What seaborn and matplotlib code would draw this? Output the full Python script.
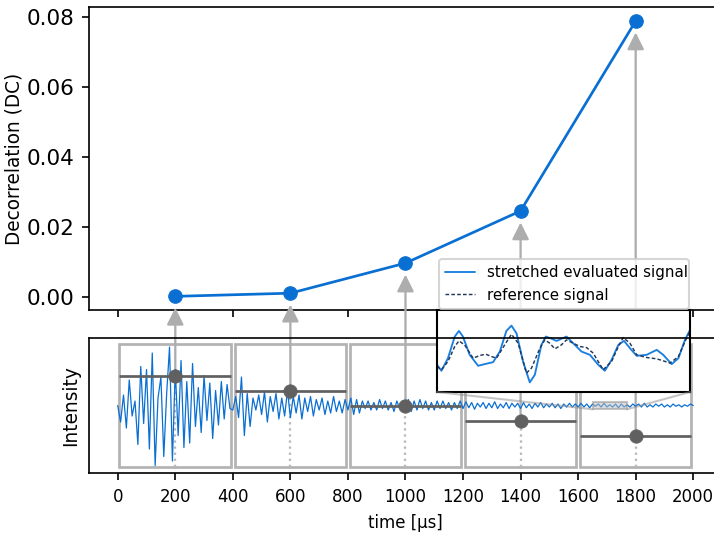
import numpy as np
import pandas as pd
import seaborn as sns
import matplotlib
matplotlib.use("Agg")
import matplotlib.pyplot as plt
from matplotlib.patches import Rectangle, ConnectionPatch
from matplotlib import font_manager as fm

# ---------------- data ----------------
window_centers = [200, 600, 1000, 1400, 1800]
window_starts = [0, 400, 800, 1200, 1600]
window_width = 400
dc_values = [0.0002, 0.0011, 0.0097, 0.0246, 0.0789]
window_levels = [2.0, 1.0, 0.0, -1.0, -2.0]

sample_step_us = 10
signal_a = [0.0, -1.1, 0.7, -1.5, 1.7, -0.7, 0.3, -2.6, 2.6, -1.2,
            2.4, -2.9, 3.5, -4.0, 0.5, 1.9, -3.4, 0.8, 3.9, -3.7,
            2.4, -2.0, 3.0, -2.8, 1.6, -2.5, 2.8, -1.4, 1.2, -1.8,
            2.0, -1.0, 1.5, -2.2, 1.0, -1.3, 1.6, -0.9, 1.4, -0.2]
signal_b = [-0.3, 0.6, -0.8, 1.9, -2.0, 0.8, -1.4, 0.5, -0.3, 0.7,
            -0.6, 0.9, -1.1, 0.6, -0.4, 0.8, -0.9, 0.5, -0.7, 1.0,
            -0.8, 0.6, -0.5, 0.7, -0.9, 0.5, -0.4, 0.6, -0.7, 0.4,
            -0.3, 0.5, -0.6, 0.3, -0.5, 0.6, -0.4, 0.3, -0.5, 0.4]
signal_c = [-0.3, 0.5, -0.6, 0.4, -0.5, 0.3, -0.2, 0.3, -0.3, 0.2,
            -0.3, 0.4, -0.2, 0.3, -0.3, 0.2, -0.4, 0.3, -0.2, 0.3,
            -0.3, 0.4, -0.4, 0.3, -0.3, 0.4, -0.2, 0.3, -0.3, 0.2,
            -0.3, 0.3, -0.2, 0.3, -0.2, 0.2, -0.3, 0.2, -0.2, 0.3]
signal_d = [-0.2, 0.25, -0.15, 0.2, -0.25, 0.15, -0.1, 0.2, -0.2, 0.15,
            -0.15, 0.25, -0.2, 0.1, -0.15, 0.2, -0.2, 0.15, -0.1, 0.15,
            -0.2, 0.2, -0.15, 0.1, -0.2, 0.15, -0.1, 0.2, -0.15, 0.1,
            -0.1, 0.15, -0.15, 0.1, -0.2, 0.1, -0.1, 0.15, -0.1, 0.1]
signal_e = [-0.1, 0.15, -0.1, 0.1, -0.15, 0.1, -0.05, 0.1, -0.1, 0.15,
            -0.1, 0.05, -0.1, 0.1, -0.15, 0.1, -0.1, 0.05, -0.1, 0.1,
            -0.05, 0.1, -0.1, 0.15, -0.1, 0.05, -0.1, 0.1, -0.05, 0.1,
            -0.1, 0.05, -0.1, 0.1, -0.05, 0.05, -0.1, 0.05, -0.05, 0.1, 0.0]
signal = signal_a + signal_b + signal_c + signal_d + signal_e
signal_time = [i * sample_step_us for i in range(len(signal))]

inset_time_stretched = [1650.0, 1652.1, 1655.2, 1658.4, 1660.4, 1662.3, 1665.5, 1669.5, 1672.6,
                        1676.6, 1679.8, 1682.9, 1685.3, 1687.7, 1690.8, 1694.0, 1696.4, 1699.5,
                        1701.6, 1703.8, 1706.7, 1711.4, 1714.6, 1718.5, 1722.5, 1726.5, 1729.6,
                        1732.8, 1736.0, 1738.7, 1741.5, 1744.7, 1749.4, 1754.2, 1757.3, 1761.3,
                        1764.5, 1767.6, 1770.0]
stretched_signal = [-0.30, -0.48, -0.10, 0.55, 0.72, 0.55, 0.0, -0.33, -0.28,
                    -0.22, 0.10, 0.72, 0.88, 0.65, -0.20, -0.83, -0.60, 0.30,
                    0.55, 0.50, 0.42, 0.55, 0.35, 0.10, 0.0, -0.30, -0.48,
                    -0.15, 0.30, 0.42, 0.20, -0.03, 0.0, 0.15, 0.0, -0.28,
                    -0.10, 0.45, 0.75]
inset_time_reference = [1650.0, 1652.1, 1655.2, 1658.4, 1660.4, 1663.1, 1667.1, 1670.3, 1673.1,
                        1675.8, 1678.2, 1682.1, 1685.3, 1688.5, 1692.4, 1694.8, 1698.8, 1701.1,
                        1703.5, 1705.9, 1709.0, 1711.4, 1714.6, 1717.8, 1720.9, 1724.1, 1728.8,
                        1732.8, 1736.0, 1738.3, 1741.5, 1744.7, 1749.4, 1754.2, 1757.3, 1760.5,
                        1764.5, 1767.6, 1770.0]
reference_signal = [-0.35, -0.45, -0.20, 0.25, 0.42, 0.30, -0.10, -0.02, 0.02,
                    -0.05, -0.10, 0.30, 0.62, 0.35, -0.55, -0.40, 0.20, 0.45,
                    0.35, 0.18, 0.30, 0.45, 0.35, 0.25, 0.22, 0.05, -0.45,
                    -0.20, 0.25, 0.52, 0.35, 0.0, -0.08, -0.12, -0.18, -0.25,
                    -0.05, 0.40, 0.72]
zoom_region = [1650, 1770, -0.25, 0.25]

x_ticks_bottom = list(range(0, 2001, 200))
x_ticks_top = list(range(0, 2001, 400))
y_ticks_top = [0.00, 0.02, 0.04, 0.06, 0.08]

# ---------------- style ----------------
sns.set_theme(context="notebook", style="ticks")
plt.rcParams.update({
    "font.family": ["DejaVu Sans"],
    "axes.edgecolor": "black",
    "axes.linewidth": 0.8,
    "xtick.color": "black",
    "ytick.color": "black",
    "xtick.major.width": 0.8,
    "ytick.major.width": 0.8,
    "xtick.major.size": 3.5,
    "ytick.major.size": 3.5,
    "text.color": "black",
    "axes.labelcolor": "black",
})

# condensed font for the bottom x axis, if one is installed
def _regular(f):
    return f.style == "normal" and f.weight in (400, "normal", "regular", "book")

cond_file = None
for f in fm.fontManager.ttflist:
    if f.name == "DejaVu Sans" and "condensed" in str(f.stretch) and _regular(f):
        cond_file = f.fname
        break
if cond_file is None:
    for f in fm.fontManager.ttflist:
        nm = f.name.lower()
        if (("condensed" in str(f.stretch)) or ("condensed" in nm) or ("narrow" in nm)) \
                and _regular(f) and ("mono" not in nm) and ("cjk" not in nm):
            cond_file = f.fname
            break

def xfont(size):
    if cond_file:
        return fm.FontProperties(fname=cond_file, size=size)
    return fm.FontProperties(family="DejaVu Sans", size=size)

BLUE = "#0a6fd2"
DARK = "#606060"
LIGHT = "#adadad"

fig = plt.figure(figsize=(4.76, 3.56), dpi=150)
ax_top = fig.add_axes([0.1246, 0.4195, 0.8866, 0.5674])
ax_bot = fig.add_axes([0.1246, 0.1142, 0.8866, 0.2528])

# ---------------- top axes ----------------
df_dc = pd.DataFrame({"time": window_centers, "dc": dc_values})
sns.lineplot(data=df_dc, x="time", y="dc", ax=ax_top, color=BLUE, lw=1.3,
             marker="o", markersize=6.5, markeredgecolor=BLUE, markeredgewidth=0.5)
ax_top.set_xlim(-100, 2100)
ax_top.set_ylim(-0.0037, 0.0829)
ax_top.set_xticks(x_ticks_top)
ax_top.set_xticklabels([])
ax_top.set_yticks(y_ticks_top)
ax_top.set_yticklabels([f"{v:.2f}" for v in y_ticks_top], fontsize=10.3)
ax_top.set_xlabel("")
ax_top.set_ylabel("Decorrelation (DC)", fontsize=8.9)
ax_top.yaxis.set_label_coords(-0.104, 0.5)

# ---------------- bottom axes ----------------
for s in window_starts:
    ax_bot.add_patch(Rectangle((s + 6, -4.1), window_width - 12, 8.2, fill=False,
                               ec="#b3b3b3", lw=1.3, zorder=1))
sns.lineplot(x=signal_time, y=signal, ax=ax_bot, color=BLUE, lw=0.6, zorder=2)
for s, c, lev in zip(window_starts, window_centers, window_levels):
    ax_bot.vlines(c, -4.1, lev, colors="#b8b8b8", linestyles=":", lw=1.1, zorder=1.8)
    ax_bot.hlines(lev, s + 6, s + window_width - 6, colors=DARK, lw=1.3, zorder=3)
sns.scatterplot(x=window_centers, y=window_levels, ax=ax_bot, s=42, color=DARK,
                edgecolor=DARK, linewidth=0.3, zorder=4)

ax_bot.set_xlim(-100, 2100)
ax_bot.set_ylim(-4.5, 4.5)
ax_bot.set_yticks([])
ax_bot.set_xticks(x_ticks_bottom)
ax_bot.set_xticklabels([str(v) for v in x_ticks_bottom])
for lab in ax_bot.get_xticklabels():
    lab.set_fontproperties(xfont(8.8))
ax_bot.set_xlabel("time [µs]", fontproperties=xfont(8.8))
ax_bot.set_ylabel("Intensity", fontsize=8.9)
ax_bot.yaxis.set_label_coords(-0.014, 0.5)

# arrows from window value to DC point
for c, lev, dc in zip(window_centers, window_levels, dc_values):
    con = ConnectionPatch(xyA=(c, lev), coordsA=ax_bot.transData,
                          xyB=(c, dc), coordsB=ax_top.transData,
                          arrowstyle="-|>", mutation_scale=17, shrinkA=0, shrinkB=5.5,
                          color=LIGHT, lw=1.1, zorder=1.5)
    ax_bot.add_artist(con)
    con.set_clip_on(False)

# ---------------- inset ----------------
ins = ax_bot.inset_axes([0.5498, 0.6, 0.3997, 0.6074])
ins.set_zorder(2.4)
sns.lineplot(x=inset_time_stretched, y=stretched_signal, ax=ins, color="#1b7fe0", lw=0.9,
             label="stretched evaluated signal")
sns.lineplot(x=inset_time_reference, y=reference_signal, ax=ins, color="#23395a", lw=0.7,
             label="reference signal")
ins.lines[-1].set_dashes([2.5, 1.5])
ins.set_xlim(1650, 1770)
ins.set_ylim(-1.12, 1.35)
ins.set_xticks([])
ins.set_yticks([])
ins.set_xlabel("")
ins.set_ylabel("")
for sp in ins.spines.values():
    sp.set_linewidth(1.0)
    sp.set_color("black")
ins.legend(loc="lower left", bbox_to_anchor=(0, 1.0, 1, 0.3), mode="expand",
           borderaxespad=0.1, fontsize=7.2, frameon=True, framealpha=0.8)

# zoom indicator rectangle + two connectors (lower corners)
zx0, zx1, zy0, zy1 = zoom_region
ax_bot.add_patch(Rectangle((zx0, zy0), zx1 - zx0, zy1 - zy0, facecolor="0.75",
                           edgecolor="0.55", alpha=0.5, lw=1.0, zorder=4.9))
for xd, xa in [(zx0, 0.0), (zx1, 1.0)]:
    cp = ConnectionPatch(xyA=(xd, zy0), coordsA=ax_bot.transData,
                         xyB=(xa, 0.0), coordsB=ins.transAxes,
                         color="0.55", alpha=0.5, lw=1.0, zorder=4.9)
    ax_bot.add_artist(cp)
    cp.set_clip_on(False)

fig.savefig("out.png", dpi=150)
